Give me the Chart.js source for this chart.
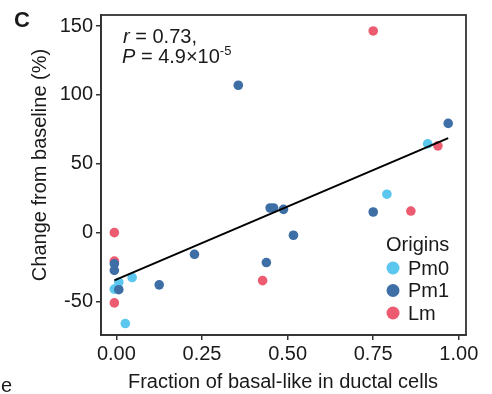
<!DOCTYPE html>
<html>
<head>
<meta charset="utf-8">
<script src="https://cdn.jsdelivr.net/npm/chart.js@4.4.1/dist/chart.umd.min.js"></script>
<style>
  html, body { margin: 0; padding: 0; background: #fff; overflow: hidden; }
  canvas { display: block; }
</style>
</head>
<body>
<canvas id="scatterChart" width="492" height="394"></canvas>
<script>
// values
const originNames = ['Pm0', 'Pm1', 'Lm'];
const originColors = ['#5BC6EE', '#3D6EA6', '#EC5B70'];

const pm0X = [0.007, -0.006, 0.046, 0.026, 0.79, 0.909];
const pm0Y = [-36, -41, -32.6, -66, 27.9, 64.5];

const pm1X = [-0.006, -0.006, 0.007, 0.125, 0.228, 0.356, 0.438, 0.449, 0.459, 0.488, 0.517, 0.75, 0.969];
const pm1Y = [-22.6, -27.4, -41.4, -37.9, -15.7, 107, -21.7, 17.9, 17.9, 16.9, -1.9, 15, 79.3];

const lmX = [-0.006, -0.006, -0.006, 0.427, 0.75, 0.86, 0.939];
const lmY = [0, -20.7, -51, -34.8, 146.4, 15.7, 63];

// linear fit end points
const fitX = [-0.006, 0.969];
const fitY = [-34.6, 68.6];

const xTicks = [0, 0.25, 0.5, 0.75, 1];
const yTicks = [-50, 0, 50, 100, 150];

const FONT = '"Liberation Sans", Arial, sans-serif';
const TEXT = '#1a1a1a';
const AXIS = '#333';

function toPoints(xs, ys) {
    return xs.map((x, i) => ({ x: x, y: ys[i] }));
}

// box, annotation, legend and panel letters
const decorations = {
    id: 'decorations',
    afterDraw(chart) {
        const ctx = chart.ctx;
        const a = chart.chartArea;
        ctx.save();
        ctx.strokeStyle = AXIS;
        ctx.lineWidth = 1.8;
        ctx.strokeRect(a.left, a.top, a.right - a.left, a.bottom - a.top);

        ctx.fillStyle = TEXT;
        ctx.textBaseline = 'alphabetic';
        ctx.textAlign = 'left';

        // correlation text
        ctx.font = 'italic 20px ' + FONT;
        ctx.fillText('r', 123, 43);
        let w = ctx.measureText('r').width;
        ctx.font = '20px ' + FONT;
        ctx.fillText(' = 0.73,', 123 + w, 43);
        ctx.font = 'italic 20px ' + FONT;
        ctx.fillText('P', 122, 63);
        w = ctx.measureText('P').width;
        ctx.font = '20px ' + FONT;
        const main = ' = 4.9×10';
        ctx.fillText(main, 122 + w, 63);
        const w2 = ctx.measureText(main).width;
        ctx.font = '13px ' + FONT;
        ctx.fillText('-5', 122 + w + w2, 55);

        // legend
        ctx.font = '20px ' + FONT;
        ctx.fillText('Origins', 386, 251);
        const legendY = [268, 290.5, 313];
        originNames.forEach((name, i) => {
            ctx.beginPath();
            ctx.fillStyle = originColors[i];
            ctx.arc(393, legendY[i], 6.5, 0, Math.PI * 2);
            ctx.fill();
            ctx.fillStyle = TEXT;
            ctx.textBaseline = 'middle';
            ctx.fillText(name, 408, legendY[i] + 1);
            ctx.textBaseline = 'alphabetic';
        });

        // axis titles
        ctx.textAlign = 'center';
        ctx.fillText('Fraction of basal-like in ductal cells', 283, 388);
        ctx.save();
        ctx.translate(46, 165);
        ctx.rotate(-Math.PI / 2);
        ctx.fillText('Change from baseline (%)', 0, 0);
        ctx.restore();

        // panel letters
        ctx.textAlign = 'left';
        ctx.font = 'bold 22px ' + FONT;
        ctx.fillText('C', 14, 27);
        ctx.font = '20px ' + FONT;
        ctx.fillText('e', 1, 392);
        ctx.restore();
    }
};

const ctx = document.getElementById('scatterChart').getContext('2d');
const chart = new Chart(ctx, {
    type: 'scatter',
    data: {
        datasets: [
            {
                label: 'fit',
                type: 'line',
                data: toPoints(fitX, fitY),
                borderColor: '#000',
                borderWidth: 2,
                pointRadius: 0,
                fill: false,
            },
            {
                label: originNames[1],
                data: toPoints(pm1X, pm1Y),
                backgroundColor: originColors[1],
                pointRadius: 4.8,
                pointBorderWidth: 0,
            },
            {
                label: originNames[2],
                data: toPoints(lmX, lmY),
                backgroundColor: originColors[2],
                pointRadius: 4.8,
                pointBorderWidth: 0,
            },
            {
                label: originNames[0],
                data: toPoints(pm0X, pm0Y),
                backgroundColor: originColors[0],
                pointRadius: 4.8,
                pointBorderWidth: 0,
            },
        ],
    },
    options: {
        responsive: false,
        animation: false,
        devicePixelRatio: 1,
        layout: { padding: { top: 10, right: 26, left: 0, bottom: 0 } },
        plugins: {
            legend: { display: false },
            tooltip: { enabled: false },
        },
        scales: {
            x: {
                type: 'linear',
                min: -0.045,
                max: 1.021,
                afterFit: (scale) => { scale.height = 59; },
                afterBuildTicks: (scale) => { scale.ticks = xTicks.map(v => ({ value: v })); },
                grid: { drawOnChartArea: false, drawTicks: true, tickLength: 5, color: AXIS, lineWidth: 1.5 },
                border: { display: true, color: AXIS, width: 1.8 },
                ticks: {
                    color: TEXT,
                    font: { family: FONT, size: 20 },
                    padding: 2,
                    maxRotation: 0,
                    callback: (v) => v.toFixed(2),
                },
            },
            y: {
                type: 'linear',
                min: -74.3,
                max: 158,
                afterFit: (scale) => { scale.width = 101; },
                afterBuildTicks: (scale) => { scale.ticks = yTicks.map(v => ({ value: v })); },
                grid: { drawOnChartArea: false, drawTicks: true, tickLength: 5, color: AXIS, lineWidth: 1.5 },
                border: { display: true, color: AXIS, width: 1.8 },
                ticks: {
                    color: TEXT,
                    font: { family: FONT, size: 20 },
                    padding: 3,
                    callback: (v) => String(v),
                },
            },
        },
    },
    plugins: [decorations],
});
</script>
</body>
</html>
